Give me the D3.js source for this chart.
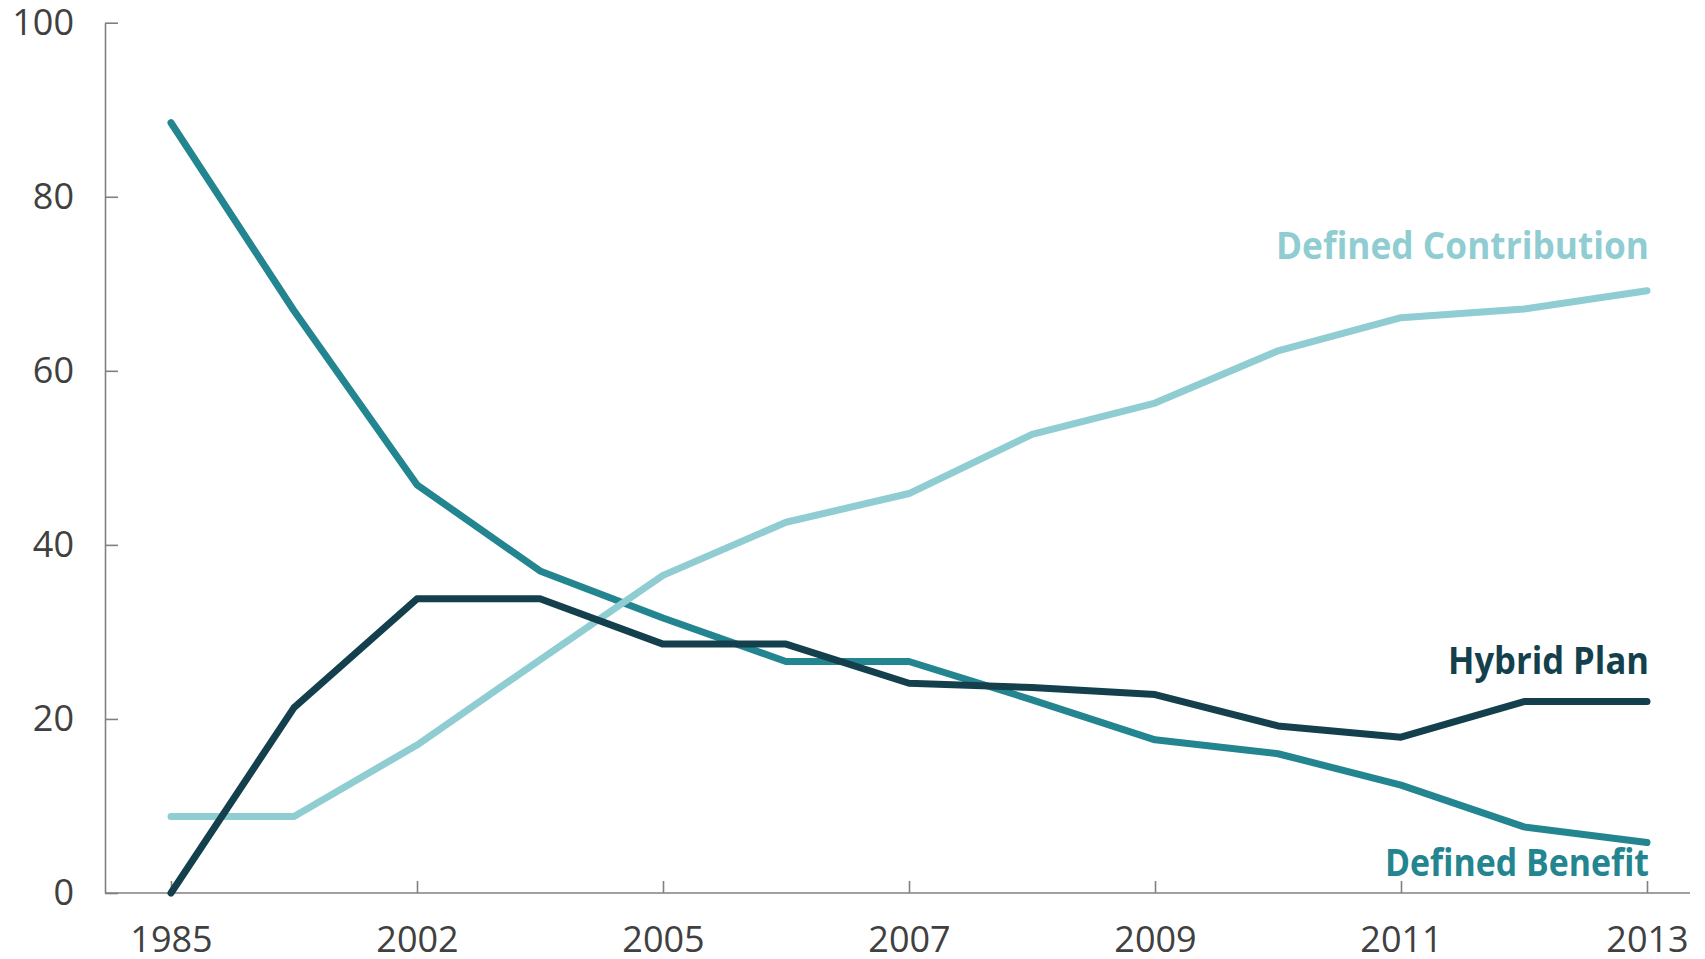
<!DOCTYPE html>
<html>
<head>
<meta charset="utf-8">
<script src="https://cdn.jsdelivr.net/npm/d3@7"></script>
<style>
  html, body { margin: 0; padding: 0; background: #fff; }
  svg { display: block; }
</style>
</head>
<body>
<svg id="chart" width="1705" height="959"></svg>
<script>
// years on the x axis; only every other one gets a label
const years = ["1985", "1998", "2002", "2004", "2005", "2006", "2007", "2008", "2009", "2010", "2011", "2012", "2013"]
const yearLabels = ["1985", "2002", "2005", "2007", "2009", "2011", "2013"]
const yTicks = [0, 20, 40, 60, 80, 100]

// share of plans, %
const definedBenefit = [88.5, 66.9, 46.9, 37.0, 31.6, 26.6, 26.6, 22.2, 17.6, 16.0, 12.4, 7.6, 5.8]
const definedContribution = [8.8, 8.8, 17.0, 26.8, 36.5, 42.6, 45.9, 52.7, 56.3, 62.3, 66.1, 67.1, 69.2]
const hybridPlan = [0, 21.3, 33.8, 33.8, 28.6, 28.6, 24.1, 23.6, 22.8, 19.2, 17.9, 22.0, 22.0]

const seriesNames = ["Defined Benefit", "Defined Contribution", "Hybrid Plan"]

const colors = {
  "Defined Benefit": "#23858f",
  "Defined Contribution": "#8fcdd2",
  "Hybrid Plan": "#143f4d"
}

const svg = d3.select("#chart")

const x = d3.scalePoint()
  .domain(years)
  .range([171, 1647])

const y = d3.scaleLinear()
  .domain([0, 100])
  .range([893, 22.7])

const axisColor = "#808080"
const textColor = "#404040"

// y axis, ticks point inward
svg.append("g")
  .attr("transform", "translate(105,0)")
  .call(d3.axisLeft(y).tickValues(yTicks).tickSize(-13).tickSizeOuter(0).tickPadding(31))
  .call(g => g.selectAll("line, path").attr("stroke", axisColor).attr("stroke-width", 1.6))
  .call(g => g.selectAll("text")
    .attr("fill", textColor)
    .attr("font-family", "'Open Sans', sans-serif")
    .attr("font-size", 36))

// x axis
const xAxis = svg.append("g")
  .attr("transform", `translate(0,${y(0)})`)
  .call(d3.axisBottom(x).tickValues(yearLabels).tickSize(-12).tickSizeOuter(0).tickPadding(33))
  .call(g => g.select(".domain").remove())
  .call(g => g.selectAll("line").attr("stroke", axisColor).attr("stroke-width", 1.6))
  .call(g => g.selectAll("text")
    .attr("fill", textColor)
    .attr("font-family", "'Open Sans', sans-serif")
    .attr("font-size", 36))

xAxis.append("line")
  .attr("x1", 105)
  .attr("x2", 1690)
  .attr("stroke", axisColor)
  .attr("stroke-width", 1.6)

const series = [
  {name: "Defined Benefit", values: definedBenefit},
  {name: "Defined Contribution", values: definedContribution},
  {name: "Hybrid Plan", values: hybridPlan}
]

const line = d3.line()
  .x((d, i) => x(years[i]))
  .y(d => y(d))

svg.append("g")
  .selectAll("path")
  .data(series)
  .join("path")
  .attr("fill", "none")
  .attr("stroke", d => colors[d.name])
  .attr("stroke-width", 7)
  .attr("stroke-linecap", "round")
  .attr("stroke-linejoin", "round")
  .attr("d", d => line(d.values))

// direct labels at the right end
const labels = [
  {name: "Defined Contribution", baseline: 259, width: 373},
  {name: "Hybrid Plan", baseline: 674, width: 201},
  {name: "Defined Benefit", baseline: 876, width: 264}
]

svg.append("g")
  .selectAll("text")
  .data(labels)
  .join("text")
  .attr("x", x("2013") + 2)
  .attr("y", d => d.baseline)
  .attr("text-anchor", "end")
  .attr("font-family", "'Open Sans', sans-serif")
  .attr("font-weight", "bold")
  .attr("font-size", 38)
  .attr("textLength", d => d.width)
  .attr("lengthAdjust", "spacingAndGlyphs")
  .attr("fill", d => colors[d.name])
  .text(d => d.name)
</script>
</body>
</html>
